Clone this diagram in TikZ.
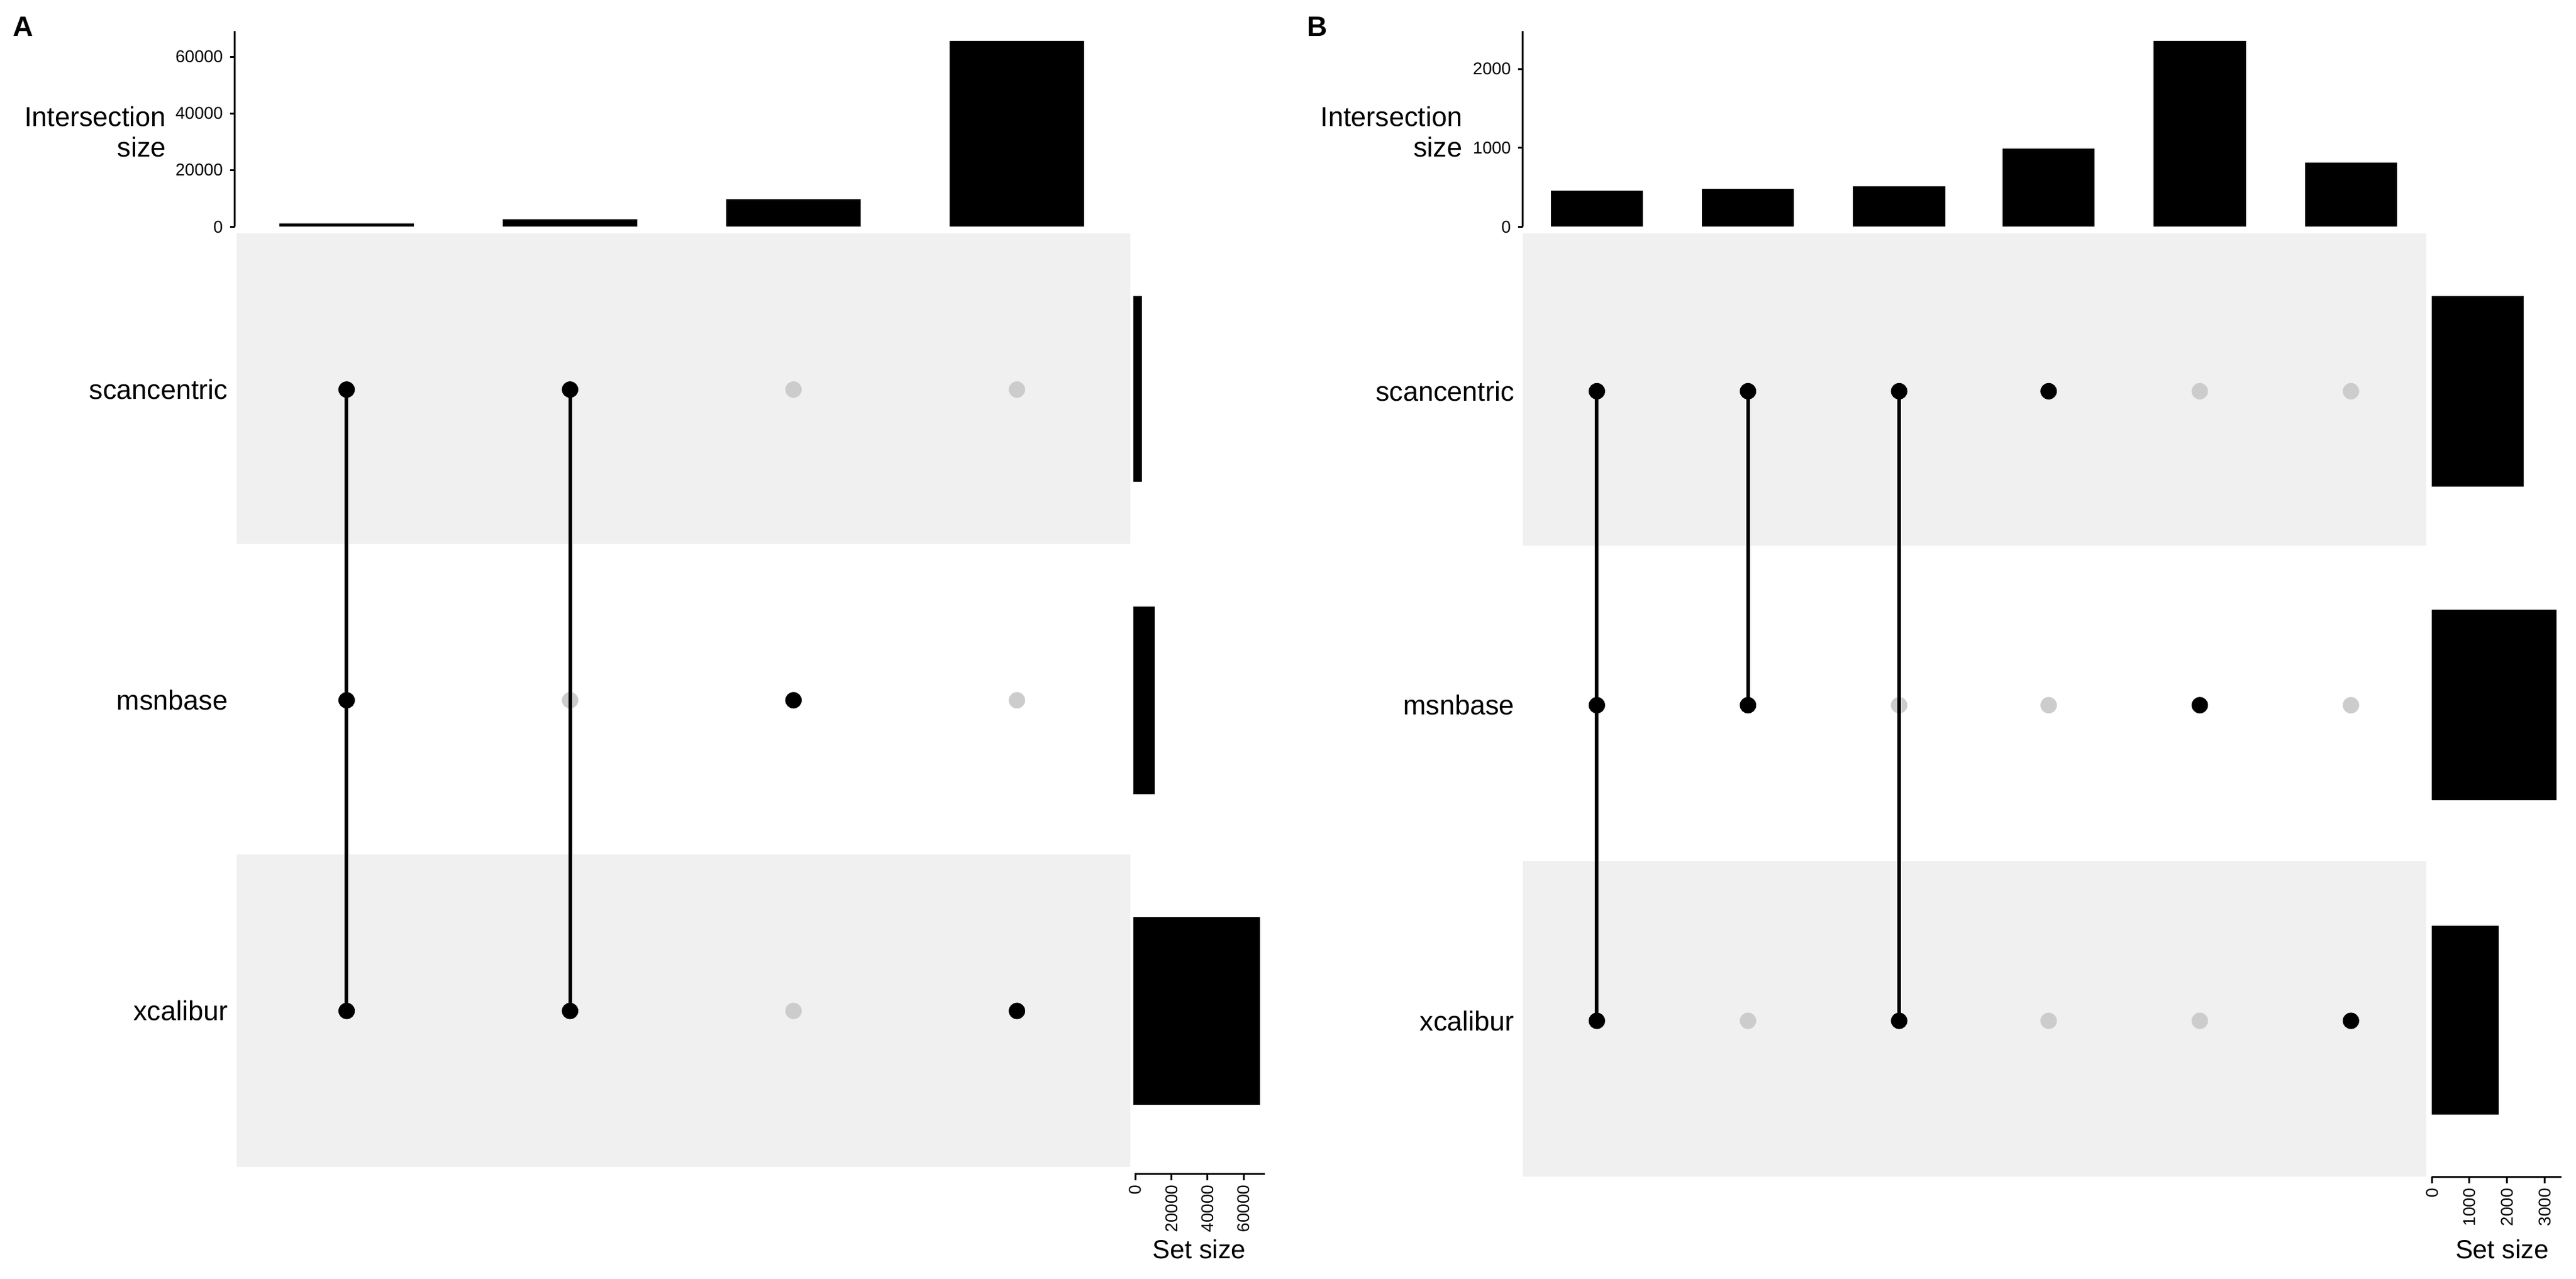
\documentclass[tikz,border=0pt]{standalone}
\usepackage{fontspec}
\setmainfont{Liberation Sans}
\begin{document}
\begin{tikzpicture}[x=2.699pt,y=-2.699pt,
  band/.style={fill=bandgray,draw=none},
  bar/.style={fill=black,draw=none},
  on/.style={circle,fill=black,inner sep=0pt,minimum size=27pt},
  off/.style={circle,fill=dotgray,inner sep=0pt,minimum size=27pt},
  conn/.style={line width=6pt},
  axis/.style={line width=3pt},
  setlab/.style={font=\fontsize{45}{48}\selectfont,anchor=east},
  tick/.style={font=\fontsize{28}{30}\selectfont},
  title/.style={font=\fontsize{45}{50}\selectfont,align=right},
  sslab/.style={font=\fontsize{43}{45}\selectfont},
  panel/.style={font=\fontsize{46}{48}\selectfont\bfseries}]
\definecolor{bandgray}{HTML}{F0F0F0}
\definecolor{dotgray}{HTML}{CCCCCC}
\useasboundingbox (0,0) rectangle (1568,778);
% ---------------- Panel A
\node[panel] (pA) at (14,16) {A};
\fill[band] (144,142) rectangle (688,331);
\fill[band] (144,520) rectangle (688,710);
\draw[axis] (143,19) -- (143,138);
\foreach \v/\y in {0/138,20000/103.5,40000/69,60000/34.5}{
  \draw[axis] (140,\y) -- (143,\y);
  \node[tick,anchor=east] at (137,\y) {\v};}
\node[title] (tA) at (58,80) {Intersection\\size};
\foreach \c/\t in {211/136,347/133.5,483/121,619/25}
  \fill[bar] (\c-41,\t) rectangle (\c+41,138);
\node[setlab] (sA) at (140,237) {scancentric};
\node[setlab] (mA) at (140,426) {msnbase};
\node[setlab] (xA) at (140,615) {xcalibur};
\node[on] (a11) at (211,237) {}; \node[on] (a12) at (211,426) {}; \node[on] (a13) at (211,615) {};
\node[on] (a21) at (347,237) {}; \node[off] (a22) at (347,426) {}; \node[on] (a23) at (347,615) {};
\node[off] (a31) at (483,237) {}; \node[on] (a32) at (483,426) {}; \node[off] (a33) at (483,615) {};
\node[off] (a41) at (619,237) {}; \node[off] (a42) at (619,426) {}; \node[on] (a43) at (619,615) {};
\draw[conn] (a11.center) -- (a13.center);
\draw[conn] (a21.center) -- (a23.center);
\fill[bar] (690,180) rectangle (695,293);
\fill[bar] (690,369) rectangle (703,483);
\fill[bar] (690,558) rectangle (767,672);
\draw[axis] (690.5,714) -- (770,714);
\foreach \v/\x in {0/691,20000/713,40000/735,60000/757}{
  \draw[axis] (\x,714) -- (\x,718);
  \node[tick,rotate=90,anchor=east] at (\x,719.5) {\v};}
\node[sslab] (ssA) at (730,760) {Set size};
% ---------------- Panel B
\node[panel] (pB) at (802,16) {B};
\fill[band] (927,142) rectangle (1477,332);
\fill[band] (927,524) rectangle (1477,716);
\draw[axis] (927,19) -- (927,138);
\foreach \v/\y in {0/138,1000/90,2000/42}{
  \draw[axis] (924,\y) -- (927,\y);
  \node[tick,anchor=east] at (921,\y) {\v};}
\node[title] (tB) at (847,80) {Intersection\\size};
\foreach \c/\t in {972/116,1064/115,1156/113.5,1247/90.5,1339/25,1431/99}
  \fill[bar] (\c-28,\t) rectangle (\c+28,138);
\node[setlab] (sB) at (923,238) {scancentric};
\node[setlab] (mB) at (923,429) {msnbase};
\node[setlab] (xB) at (923,621) {xcalibur};
\node[on] (b11) at (972,238) {}; \node[on] (b12) at (972,429) {}; \node[on] (b13) at (972,621) {};
\node[on] (b21) at (1064,238) {}; \node[on] (b22) at (1064,429) {}; \node[off] (b23) at (1064,621) {};
\node[on] (b31) at (1156,238) {}; \node[off] (b32) at (1156,429) {}; \node[on] (b33) at (1156,621) {};
\node[on] (b41) at (1247,238) {}; \node[off] (b42) at (1247,429) {}; \node[off] (b43) at (1247,621) {};
\node[off] (b51) at (1339,238) {}; \node[on] (b52) at (1339,429) {}; \node[off] (b53) at (1339,621) {};
\node[off] (b61) at (1431,238) {}; \node[off] (b62) at (1431,429) {}; \node[on] (b63) at (1431,621) {};
\draw[conn] (b11.center) -- (b13.center);
\draw[conn] (b21.center) -- (b22.center);
\draw[conn] (b31.center) -- (b33.center);
\fill[bar] (1480,180) rectangle (1536,296);
\fill[bar] (1480,371) rectangle (1556,487);
\fill[bar] (1480,563) rectangle (1521,678);
\draw[axis] (1480,716) -- (1559,716);
\foreach \v/\x in {0/1480.5,1000/1503,2000/1526,3000/1549}{
  \draw[axis] (\x,716) -- (\x,720);
  \node[tick,rotate=90,anchor=east] at (\x,721.5) {\v};}
\node[sslab] (ssB) at (1523,760) {Set size};
\end{tikzpicture}
\end{document}
